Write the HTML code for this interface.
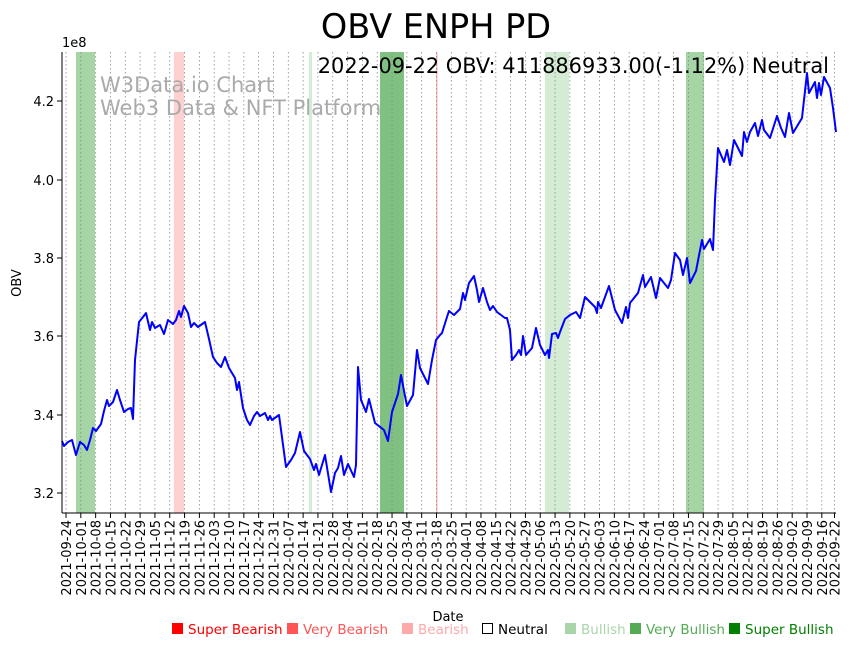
<!DOCTYPE html>
<html><head><meta charset="utf-8"><style>
body{margin:0;background:#fff;}
svg{display:block;font-family:"DejaVu Sans","Liberation Sans",sans-serif;}
</style></head><body>
<svg width="855" height="646" viewBox="0 0 855 646" xmlns="http://www.w3.org/2000/svg">
<rect width="855" height="646" fill="#fff"/>
<rect x="76" y="52" width="19" height="461" fill="#a5d4a5"/>
<rect x="174" y="52" width="10" height="461" fill="#ffd0d0"/>
<rect x="309" y="52" width="3" height="461" fill="#d4ebd4"/>
<rect x="380" y="52" width="24" height="461" fill="#80c080"/>
<rect x="436" y="52" width="1.5" height="461" fill="#ffb8b8"/>
<rect x="545" y="52" width="24" height="461" fill="#d4ebd4"/>
<rect x="686" y="52" width="18" height="461" fill="#a5d4a5"/>
<g id="grid" stroke="#888" stroke-width="0.8" stroke-dasharray="1.5,2.5"></g>
<text x="100" y="92" font-size="21" fill="#aaa">W3Data.io Chart</text>
<text x="100" y="115" font-size="21" fill="#aaa">Web3 Data &amp; NFT Platform</text>
<polyline fill="none" stroke="#0000ff" stroke-width="2" stroke-linejoin="round" points="62,441 64,446 68,442 72,440 76,455 80,442 84,445 87,450 90,440 93,428 96,431 101,424 104,411 107,400 109,406 113,402 117,390 120,400 124,412 128,409 131,408 133,419 135,360 139,322 143,317 146,313 150,330 152,322 155,328 160,325 164,334 168,320 173,324 176,320 179,311 181,317 184,306 188,313 191,327 194,323 198,327 205,322 209,339 213,357 217,363 221,367 225,357 229,368 235,378 237,390 239,382 243,408 247,420 250,425 254,416 257,412 260,416 265,413 268,420 270,416 272,420 279,415 286,467 291,460 295,453 300,432 304,451 310,459 314,470 316,464 319,475 325,455 331,492 335,473 338,468 341,456 344,475 348,464 354,477 356,465 358,367 361,400 366,412 369,399 375,423 384,430 388,441 392,412 398,394 401,375 405,396 407,406 413,395 417,350 420,368 428,384 432,360 436,340 440,335 442,333 447,317 449,311 454,315 460,309 463,293 465,300 469,283 474,276 477,290 479,302 483,288 487,302 490,310 493,306 497,312 501,315 505,318 507,318 510,330 512,360 516,355 519,350 521,355 523,336 526,355 532,348 536,328 540,345 545,355 548,350 549,358 552,334 556,333 558,338 560,332 565,319 570,315 576,312 580,318 585,297 595,307 597,313 598,302 601,308 609,286 615,310 622,323 626,307 628,318 630,303 638,293 643,275 645,287 651,277 656,298 660,278 668,288 671,280 675,253 680,260 683,275 687,258 690,283 696,271 702,240 704,249 710,239 713,250 715,200 718,148 724,162 727,150 730,165 734,140 742,156 744,132 747,142 750,132 755,123 758,136 762,120 764,130 770,138 777,116 781,128 785,137 789,113 793,133 802,118 807,73 809,93 815,82 817,98 819,83 821,95 824,77 830,88 833,108 836,132"/>
<line x1="62" y1="52" x2="62" y2="513" stroke="#000" stroke-width="1"/>
<line x1="62" y1="513" x2="836" y2="513" stroke="#000" stroke-width="1"/>
<g font-size="13" text-anchor="end" fill="#000">
<line x1="57" y1="493" x2="62" y2="493" stroke="#000"/><text x="54" y="498">3.2</text>
<line x1="57" y1="415" x2="62" y2="415" stroke="#000"/><text x="54" y="420">3.4</text>
<line x1="57" y1="336" x2="62" y2="336" stroke="#000"/><text x="54" y="341">3.6</text>
<line x1="57" y1="258" x2="62" y2="258" stroke="#000"/><text x="54" y="263">3.8</text>
<line x1="57" y1="180" x2="62" y2="180" stroke="#000"/><text x="54" y="185">4.0</text>
<line x1="57" y1="101" x2="62" y2="101" stroke="#000"/><text x="54" y="106">4.2</text>
</g>
<text x="62" y="47" font-size="13">1e8</text>
<text x="21" y="283" font-size="13" text-anchor="middle" transform="rotate(-90 21 283)">OBV</text>
<g id="xl" font-size="13" text-anchor="end"></g>
<text x="448" y="621" font-size="13" text-anchor="middle">Date</text>
<text x="436" y="38" font-size="33.5" text-anchor="middle">OBV ENPH PD</text>
<text x="829" y="73" font-size="20.9" text-anchor="end">2022-09-22 OBV: 411886933.00(-1.12%) Neutral</text>
<g font-size="13.5">
<rect x="172" y="623" width="11" height="11" fill="#ff0000"/><text x="188" y="634" fill="#ff0000">Super Bearish</text>
<rect x="287" y="623" width="11" height="11" fill="#ff5555"/><text x="303" y="634" fill="#ff5555">Very Bearish</text>
<rect x="402" y="623" width="11" height="11" fill="#ffaaaa"/><text x="418" y="634" fill="#ffaaaa">Bearish</text>
<rect x="482.5" y="623.5" width="10" height="10" fill="none" stroke="#000"/><text x="498" y="634" fill="#000">Neutral</text>
<rect x="565" y="623" width="11" height="11" fill="#aad5aa"/><text x="581" y="634" fill="#aad5aa">Bullish</text>
<rect x="630" y="623" width="11" height="11" fill="#55aa55"/><text x="646" y="634" fill="#55aa55">Very Bullish</text>
<rect x="729" y="623" width="11" height="11" fill="#008000"/><text x="745" y="634" fill="#008000">Super Bullish</text>
</g>
<script>
(function(){
var ns="http://www.w3.org/2000/svg";
var g=document.getElementById("grid"),xl=document.getElementById("xl");
var start=Date.UTC(2021,8,24);
var x0=66,px=14.82/7;
function add(d){
 var days=Math.round((d-start)/86400000);
 var x=x0+days*px;
 var l=document.createElementNS(ns,"line");
 l.setAttribute("x1",x);l.setAttribute("x2",x);l.setAttribute("y1",52);l.setAttribute("y2",513);
 g.appendChild(l);
 var t=document.createElementNS(ns,"line");
 t.setAttribute("x1",x);t.setAttribute("x2",x);t.setAttribute("y1",513);t.setAttribute("y2",518);t.setAttribute("stroke","#000");
 xl.appendChild(t);
 var dt=new Date(d);
 var s=dt.getUTCFullYear()+"-"+String(dt.getUTCMonth()+1).padStart(2,"0")+"-"+String(dt.getUTCDate()).padStart(2,"0");
 var tx=document.createElementNS(ns,"text");
 tx.setAttribute("x",x+5);tx.setAttribute("y",520);
 tx.setAttribute("transform","rotate(-90 "+(x+5)+" 520)");
 tx.textContent=s;xl.appendChild(tx);
}
for(var i=0;i<=51;i++)add(start+i*7*86400000);
add(Date.UTC(2022,8,22));
})();
</script>
</svg>
</body></html>
